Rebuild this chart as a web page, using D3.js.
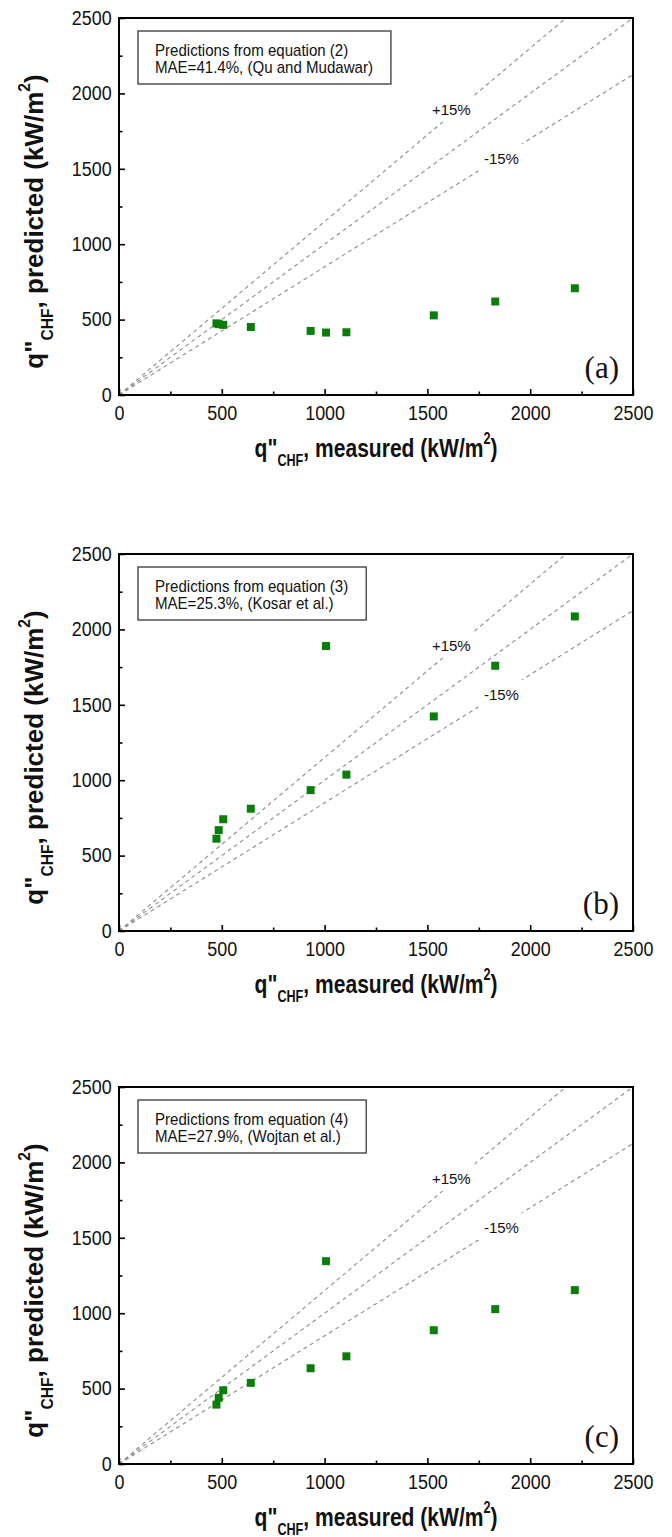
<!DOCTYPE html>
<html><head><meta charset="utf-8">
<script src="https://cdn.jsdelivr.net/npm/d3@7"></script>
<style>body{margin:0;background:#fff}</style>
</head><body>
<svg id="chart" width="672" height="1537"></svg>
<script>
// ---- data ----
const measured   = [474, 485, 507, 641, 932, 1007, 1106, 1531, 1830, 2217];
const predictedA = [475, 470, 465, 451, 425, 414, 416, 528, 620, 708];
const predictedB = [612, 669, 741, 811, 934, 1890, 1037, 1423, 1759, 2086];
const predictedC = [394, 439, 489, 538, 635, 1345, 714, 887, 1027, 1153];
const predictedSets = [predictedA, predictedB, predictedC];
const legendLine1 = ["Predictions from equation (2)", "Predictions from equation (3)", "Predictions from equation (4)"];
const legendLine2 = ["MAE=41.4%, (Qu and Mudawar)", "MAE=25.3%, (Kosar et al.)", "MAE=27.9%, (Wojtan et al.)"];
const panelTags = ["(a)", "(b)", "(c)"];
const bandFactors = [1.15, 1.0, 0.85];
const bandLabels = ["+15%", "-15%"];
const bandLabelX = [1522, 1775];
const bandLabelY = [1857, 1532];
const majorTicks = [0, 500, 1000, 1500, 2000, 2500];
const minorTicks = [250, 750, 1250, 1750, 2250];

// ---- layout ----
const svg = d3.select("#chart");
const sans = "'Liberation Sans', Arial, sans-serif";
const serif = "'Liberation Serif', 'Times New Roman', serif";
const x = d3.scaleLinear().domain([0, 2500]).range([119, 633]);
const plotH = 377;
const panelTops = [18, 554, 1087];
const green = "#0b7d0b";

panelTops.forEach((top, i) => {
  const g = svg.append("g").attr("transform", `translate(0,${top})`);
  const y = d3.scaleLinear().domain([0, 2500]).range([plotH, 0]);

  // dashed guide lines
  bandFactors.forEach(f => {
    const xe = Math.min(2500, 2500 / f);
    g.append("line")
      .attr("x1", x(0)).attr("y1", y(0))
      .attr("x2", x(xe)).attr("y2", y(xe * f))
      .attr("stroke", "#8c8c8c").attr("stroke-width", 1.1)
      .attr("stroke-dasharray", "4,3.5");
  });

  // band labels with white background
  bandLabels.forEach((lab, j) => {
    const t = g.append("text")
      .attr("x", x(bandLabelX[j])).attr("y", y(bandLabelY[j]))
      .attr("font-family", sans).attr("font-size", 15).attr("fill", "#111")
      .text(lab);
    const bb = t.node().getBBox();
    g.insert("rect", () => t.node())
      .attr("x", bb.x - 6).attr("y", bb.y - 7)
      .attr("width", bb.width + 9).attr("height", bb.height + 11)
      .attr("fill", "#fff");
  });

  // points
  const pts = measured.map((m, k) => [m, predictedSets[i][k]]);
  g.selectAll("rect.pt").data(pts).join("rect")
    .attr("class", "pt")
    .attr("x", d => x(d[0]) - 4).attr("y", d => y(d[1]) - 4)
    .attr("width", 8).attr("height", 8)
    .attr("fill", green);

  // minor ticks
  const minX = g.append("g").attr("transform", `translate(0,${plotH})`)
    .call(d3.axisBottom(x).tickValues(minorTicks).tickSize(-3.5).tickFormat(""));
  const minY = g.append("g").attr("transform", `translate(${x(0)},0)`)
    .call(d3.axisLeft(y).tickValues(minorTicks).tickSize(-3.5).tickFormat(""));
  // major ticks
  const majX = g.append("g").attr("transform", `translate(0,${plotH})`)
    .call(d3.axisBottom(x).tickValues(majorTicks).tickSize(-6).tickPadding(11).tickFormat(d3.format("d")));
  const majY = g.append("g").attr("transform", `translate(${x(0)},0)`)
    .call(d3.axisLeft(y).tickValues(majorTicks).tickSize(-6).tickPadding(8).tickFormat(d3.format("d")));
  [minX, minY, majX, majY].forEach(a => {
    a.select(".domain").remove();
    a.selectAll("line").attr("stroke", "#000").attr("stroke-width", 1.6);
    a.selectAll("text").attr("font-family", sans).attr("font-size", 19.5).attr("fill", "#111")
      .attr("transform", "scale(0.92,1)");
  });

  // frame
  g.append("rect").attr("x", x(0)).attr("y", 0)
    .attr("width", x(2500) - x(0)).attr("height", plotH)
    .attr("fill", "none").attr("stroke", "#000").attr("stroke-width", 2);

  // legend box
  const lg = g.append("g");
  const t1 = lg.append("text").attr("x", 0).attr("y", 0)
    .attr("transform", `translate(${x(0) + 36},37.5) scale(0.886,1)`)
    .attr("font-family", sans).attr("font-size", 17).attr("fill", "#111").text(legendLine1[i]);
  const t2 = lg.append("text").attr("x", 0).attr("y", 0)
    .attr("transform", `translate(${x(0) + 36},54.5) scale(0.886,1)`)
    .attr("font-family", sans).attr("font-size", 17).attr("fill", "#111").text(legendLine2[i]);
  const maxLen = Math.max(t1.node().getComputedTextLength(), t2.node().getComputedTextLength()) * 0.886;
  lg.insert("rect", "text")
    .attr("x", x(0) + 19).attr("y", 13)
    .attr("width", maxLen + 35).attr("height", 53)
    .attr("fill", "#fff").attr("stroke", "#444").attr("stroke-width", 1.4);

  // panel tag
  g.append("text").attr("x", 619).attr("y", plotH - 17.5)
    .attr("text-anchor", "end").attr("font-family", serif).attr("font-size", 31)
    .attr("fill", "#111").text(panelTags[i]);

  // x title
  const xt = g.append("text")
    .attr("transform", `translate(${(x(0) + x(2500)) / 2},${plotH + 62}) scale(0.81,1)`)
    .attr("text-anchor", "middle").attr("font-family", sans).attr("font-weight", "bold")
    .attr("font-size", 26).attr("fill", "#111");
  xt.append("tspan").text('q"');
  xt.append("tspan").attr("font-size", 15.6).attr("dy", 8.5).text("CHF");
  xt.append("tspan").attr("dy", -8.5).text(", measured (kW/m");
  xt.append("tspan").attr("font-size", 15.6).attr("dy", -13).text("2");
  xt.append("tspan").attr("dy", 13).text(")");

  // y title
  const yt = g.append("text")
    .attr("transform", `translate(43,${plotH / 2 + 15}) rotate(-90)`)
    .attr("text-anchor", "middle").attr("font-family", sans).attr("font-weight", "bold")
    .attr("font-size", 26).attr("fill", "#111");
  yt.append("tspan").text('q"');
  yt.append("tspan").attr("font-size", 15.6).attr("dy", 9.5).text("CHF");
  yt.append("tspan").attr("dy", -9.5).text(", predicted (kW/m");
  yt.append("tspan").attr("font-size", 15.6).attr("dy", -13).text("2");
  yt.append("tspan").attr("dy", 13).text(")");
});
</script>
</body></html>
